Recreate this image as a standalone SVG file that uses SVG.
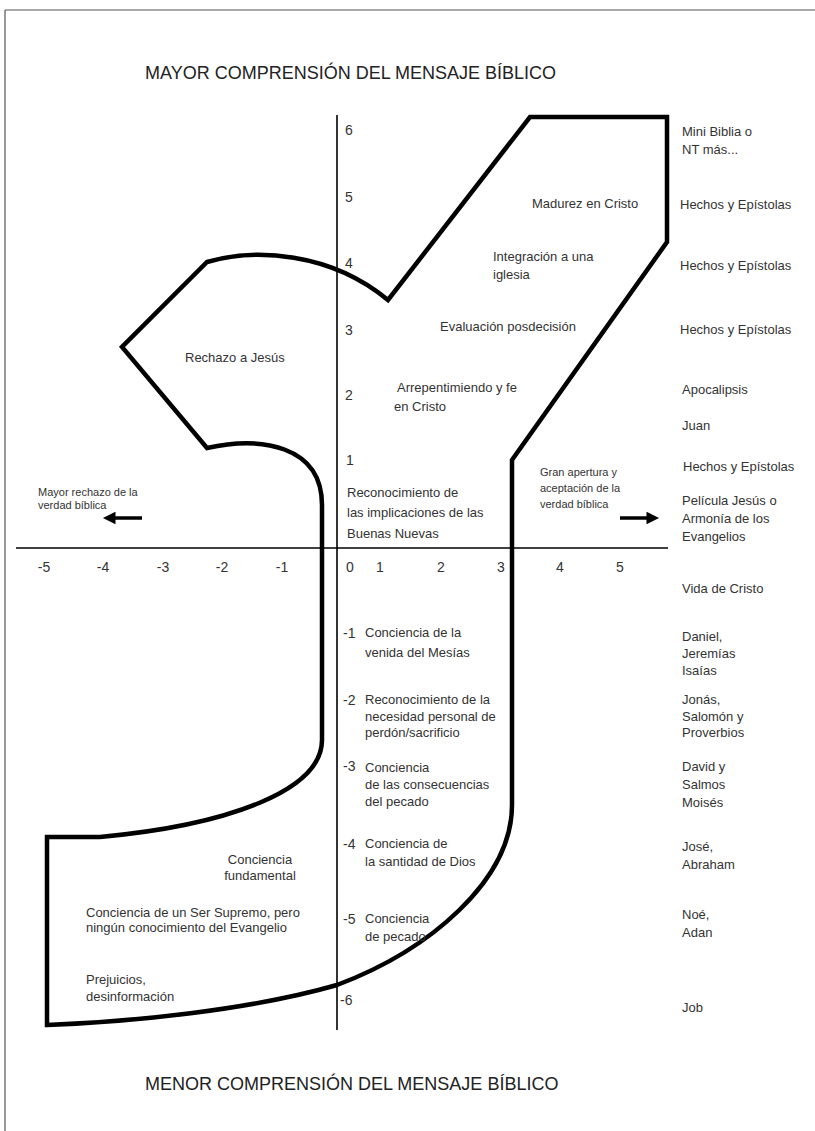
<svg xmlns="http://www.w3.org/2000/svg" width="815" height="1131" viewBox="0 0 815 1131">
<style>
.t{font-family:"Liberation Sans",Arial,sans-serif;font-size:13px;fill:#333}
.s{font-family:"Liberation Sans",Arial,sans-serif;font-size:11px;fill:#333}
.n{font-family:"Liberation Sans",Arial,sans-serif;font-size:14px;fill:#333}
.h{font-family:"Liberation Sans",Arial,sans-serif;font-size:18px;fill:#222}
.ax{stroke:#000;stroke-width:1.6;fill:none}
.shape{stroke:#000;stroke-width:4.5;fill:none;stroke-linejoin:miter}
.arr{stroke:#000;stroke-width:3.5;fill:none}
</style>
<defs>
<marker id="ah" viewBox="0 0 10 10" refX="2" refY="5" markerWidth="4" markerHeight="3.6" orient="auto" markerUnits="strokeWidth">
<path d="M0,0 L10,5 L0,10 Z" fill="#000"/>
</marker>
</defs>
<rect width="815" height="1131" fill="#fff"/>
<g id="border" stroke="#555" stroke-width="1.2" fill="none">
<line x1="5" y1="10" x2="815" y2="10"/>
<line x1="5" y1="10" x2="5" y2="1131"/>
</g>
<g id="titles">
<text class="h" x="145" y="79">MAYOR COMPRENSIÓN DEL MENSAJE BÍBLICO</text>
<text class="h" x="145" y="1090">MENOR COMPRENSIÓN DEL MENSAJE BÍBLICO</text>
</g>
<g id="connectors">
<line class="ax" x1="337" y1="115" x2="337" y2="1030"/>
<line class="ax" x1="16" y1="548" x2="668" y2="548"/>
<line class="arr" x1="142" y1="518" x2="113" y2="518" marker-end="url(#ah)"/>
<line class="arr" x1="620" y1="518" x2="649" y2="518" marker-end="url(#ah)"/>
</g>
<g id="shape">
<path class="shape" d="M530,117 L667,117 L667,242 L512,460 L512,805 C512,880 430,950 337,985 C250,1010 130,1022 47,1025 L47,837 L100,837 C230,825 322,790 322,740 L322,505 C322,445 260,436 207,448 L122,347 L207,262 C255,248 330,252 388,300 Z"/>
</g>
<g id="yaxis-labels">
<text class="n" x="345" y="135">6</text>
<text class="n" x="345" y="202">5</text>
<text class="n" x="345" y="268">4</text>
<text class="n" x="345" y="335">3</text>
<text class="n" x="345" y="400">2</text>
<text class="n" x="346" y="465">1</text>
<text class="n" x="343" y="638">-1</text>
<text class="n" x="343" y="705">-2</text>
<text class="n" x="343" y="771">-3</text>
<text class="n" x="343" y="849">-4</text>
<text class="n" x="343" y="924">-5</text>
<text class="n" x="340" y="1005">-6</text>
</g>
<g id="xaxis-labels">
<text class="n" x="44" y="572" text-anchor="middle">-5</text>
<text class="n" x="103" y="572" text-anchor="middle">-4</text>
<text class="n" x="163" y="572" text-anchor="middle">-3</text>
<text class="n" x="222" y="572" text-anchor="middle">-2</text>
<text class="n" x="282" y="572" text-anchor="middle">-1</text>
<text class="n" x="350" y="572" text-anchor="middle">0</text>
<text class="n" x="380" y="572" text-anchor="middle">1</text>
<text class="n" x="441" y="572" text-anchor="middle">2</text>
<text class="n" x="501" y="572" text-anchor="middle">3</text>
<text class="n" x="560" y="572" text-anchor="middle">4</text>
<text class="n" x="620" y="572" text-anchor="middle">5</text>
</g>
<g id="stages">
<text class="t" x="532" y="208">Madurez en Cristo</text>
<text class="t" x="493" y="261">Integración a una</text>
<text class="t" x="493" y="279">iglesia</text>
<text class="t" x="440" y="331">Evaluación posdecisión</text>
<text class="t" x="397" y="392">Arrepentimiendo y fe</text>
<text class="t" x="394" y="411">en Cristo</text>
<text class="t" x="347" y="497">Reconocimiento de</text>
<text class="t" x="347" y="517">las implicaciones de las</text>
<text class="t" x="347" y="538">Buenas Nuevas</text>
<text class="t" x="185" y="362">Rechazo a Jesús</text>
<text class="s" x="540" y="476">Gran apertura y</text>
<text class="s" x="540" y="492">aceptación de la</text>
<text class="s" x="540" y="508">verdad bíblica</text>
<text class="s" x="38" y="496">Mayor rechazo de la</text>
<text class="s" x="38" y="509">verdad bíblica</text>
<text class="t" x="365" y="637">Conciencia de la</text>
<text class="t" x="365" y="657">venida del Mesías</text>
<text class="t" x="365" y="704">Reconocimiento de la</text>
<text class="t" x="365" y="721">necesidad personal de</text>
<text class="t" x="365" y="737">perdón/sacrificio</text>
<text class="t" x="365" y="772">Conciencia</text>
<text class="t" x="365" y="789">de las consecuencias</text>
<text class="t" x="365" y="806">del pecado</text>
<text class="t" x="365" y="848">Conciencia de</text>
<text class="t" x="365" y="866">la santidad de Dios</text>
<text class="t" x="365" y="923">Conciencia</text>
<text class="t" x="365" y="941">de pecado</text>
<text class="t" x="260" y="864" text-anchor="middle">Conciencia</text>
<text class="t" x="260" y="880" text-anchor="middle">fundamental</text>
<text class="t" x="86" y="917">Conciencia de un Ser Supremo, pero</text>
<text class="t" x="86" y="932">ningún conocimiento del Evangelio</text>
<text class="t" x="86" y="984">Prejuicios,</text>
<text class="t" x="86" y="1001">desinformación</text>
</g>
<g id="books">
<text class="t" x="682" y="136">Mini Biblia o</text>
<text class="t" x="682" y="154">NT más...</text>
<text class="t" x="680" y="209">Hechos y Epístolas</text>
<text class="t" x="680" y="270">Hechos y Epístolas</text>
<text class="t" x="680" y="334">Hechos y Epístolas</text>
<text class="t" x="682" y="394">Apocalipsis</text>
<text class="t" x="682" y="430">Juan</text>
<text class="t" x="683" y="471">Hechos y Epístolas</text>
<text class="t" x="682" y="505">Película Jesús o</text>
<text class="t" x="682" y="523">Armonía de los</text>
<text class="t" x="682" y="541">Evangelios</text>
<text class="t" x="682" y="593">Vida de Cristo</text>
<text class="t" x="682" y="641">Daniel,</text>
<text class="t" x="682" y="658">Jeremías</text>
<text class="t" x="682" y="675">Isaías</text>
<text class="t" x="682" y="704">Jonás,</text>
<text class="t" x="682" y="721">Salomón y</text>
<text class="t" x="682" y="737">Proverbios</text>
<text class="t" x="682" y="771">David y</text>
<text class="t" x="682" y="789">Salmos</text>
<text class="t" x="682" y="807">Moisés</text>
<text class="t" x="682" y="851">José,</text>
<text class="t" x="682" y="869">Abraham</text>
<text class="t" x="682" y="919">Noé,</text>
<text class="t" x="682" y="937">Adan</text>
<text class="t" x="682" y="1012">Job</text>
</g>
</svg>
